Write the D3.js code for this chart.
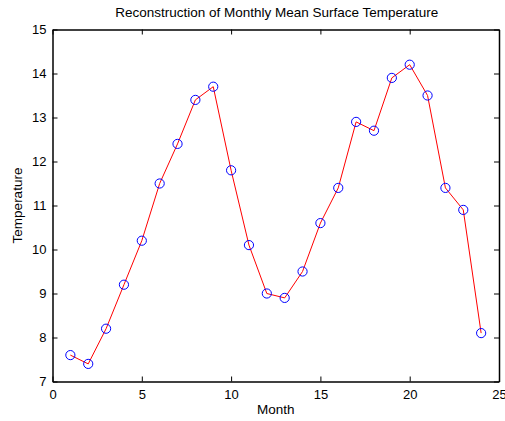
<!DOCTYPE html>
<html>
<head>
<meta charset="utf-8">
<script src="https://cdn.jsdelivr.net/npm/d3@7"></script>
<style>
  html, body { margin: 0; padding: 0; background: #fff; }
  svg { display: block; }
  text { font-family: "Liberation Sans", Arial, sans-serif; fill: #000; }
</style>
</head>
<body>
<svg id="chart" width="505" height="421"></svg>
<script>
// Monthly mean surface temperature, months 1..24
const months = d3.range(1, 25);
const temperature = [7.6, 7.4, 8.2, 9.2, 10.2, 11.5, 12.4, 13.4, 13.7, 11.8, 10.1, 9.0,
                     8.9, 9.5, 10.6, 11.4, 12.9, 12.7, 13.9, 14.2, 13.5, 11.4, 10.9, 8.1];
const xTicks = [0, 5, 10, 15, 20, 25];
const yTicks = [7, 8, 9, 10, 11, 12, 13, 14, 15];
const titleText = "Reconstruction of Monthly Mean Surface Temperature";
const xLabel = "Month";
const yLabel = "Temperature";

const svg = d3.select("#chart");
const plotLeft = 52.5, plotRight = 499, plotTop = 29.5, plotBottom = 381.5;

const x = d3.scaleLinear().domain([0, 25]).range([plotLeft, plotRight]);
const y = d3.scaleLinear().domain([7, 15]).range([plotBottom, plotTop]);
const tickLen = 5;

// Axes with inward ticks on all four sides (boxed frame)
const gBottom = svg.append("g").attr("transform", `translate(0,${plotBottom})`)
  .call(d3.axisBottom(x).tickValues(xTicks).tickSizeInner(-tickLen).tickSizeOuter(0).tickPadding(8));
const gTop = svg.append("g").attr("transform", `translate(0,${plotTop})`)
  .call(d3.axisTop(x).tickValues(xTicks).tickSizeInner(-tickLen).tickSizeOuter(0).tickFormat(""));
const gLeft = svg.append("g").attr("transform", `translate(${plotLeft},0)`)
  .call(d3.axisLeft(y).tickValues(yTicks).tickSizeInner(-tickLen).tickSizeOuter(0).tickPadding(6));
const gRight = svg.append("g").attr("transform", `translate(${plotRight},0)`)
  .call(d3.axisRight(y).tickValues(yTicks).tickSizeInner(-tickLen).tickSizeOuter(0).tickFormat(""));

[gBottom, gTop, gLeft, gRight].forEach(g => {
  g.select(".domain").attr("stroke", "#000").attr("stroke-width", 1.5);
  g.selectAll(".tick line").attr("stroke", "#000").attr("stroke-width", 1);
  g.selectAll(".tick text")
    .style("font-family", '"Liberation Sans", Arial, sans-serif')
    .style("font-size", "13px").attr("fill", "#000");
});
gBottom.selectAll(".tick text").attr("dy", "0.71em");

// Line series
const line = d3.line().x((d, i) => x(months[i])).y(d => y(d));
svg.append("path")
  .datum(temperature)
  .attr("d", line)
  .attr("fill", "none")
  .attr("stroke", "#ff0000")
  .attr("stroke-width", 1);

// Circle markers
svg.append("g").selectAll("circle")
  .data(temperature)
  .join("circle")
  .attr("cx", (d, i) => x(months[i]))
  .attr("cy", d => y(d))
  .attr("r", 4.6)
  .attr("fill", "none")
  .attr("stroke", "#0000ff")
  .attr("stroke-width", 1);

// Title and axis labels
svg.append("text")
  .attr("x", (plotLeft + plotRight) / 2 + 1).attr("y", 17)
  .attr("text-anchor", "middle")
  .style("font-size", "13.5px")
  .text(titleText);

svg.append("text")
  .attr("x", (plotLeft + plotRight) / 2).attr("y", 414)
  .attr("text-anchor", "middle")
  .style("font-size", "13.5px")
  .text(xLabel);

svg.append("text")
  .attr("transform", `translate(22,${(plotTop + plotBottom) / 2}) rotate(-90)`)
  .attr("text-anchor", "middle")
  .style("font-size", "13.5px")
  .text(yLabel);
</script>
</body>
</html>
